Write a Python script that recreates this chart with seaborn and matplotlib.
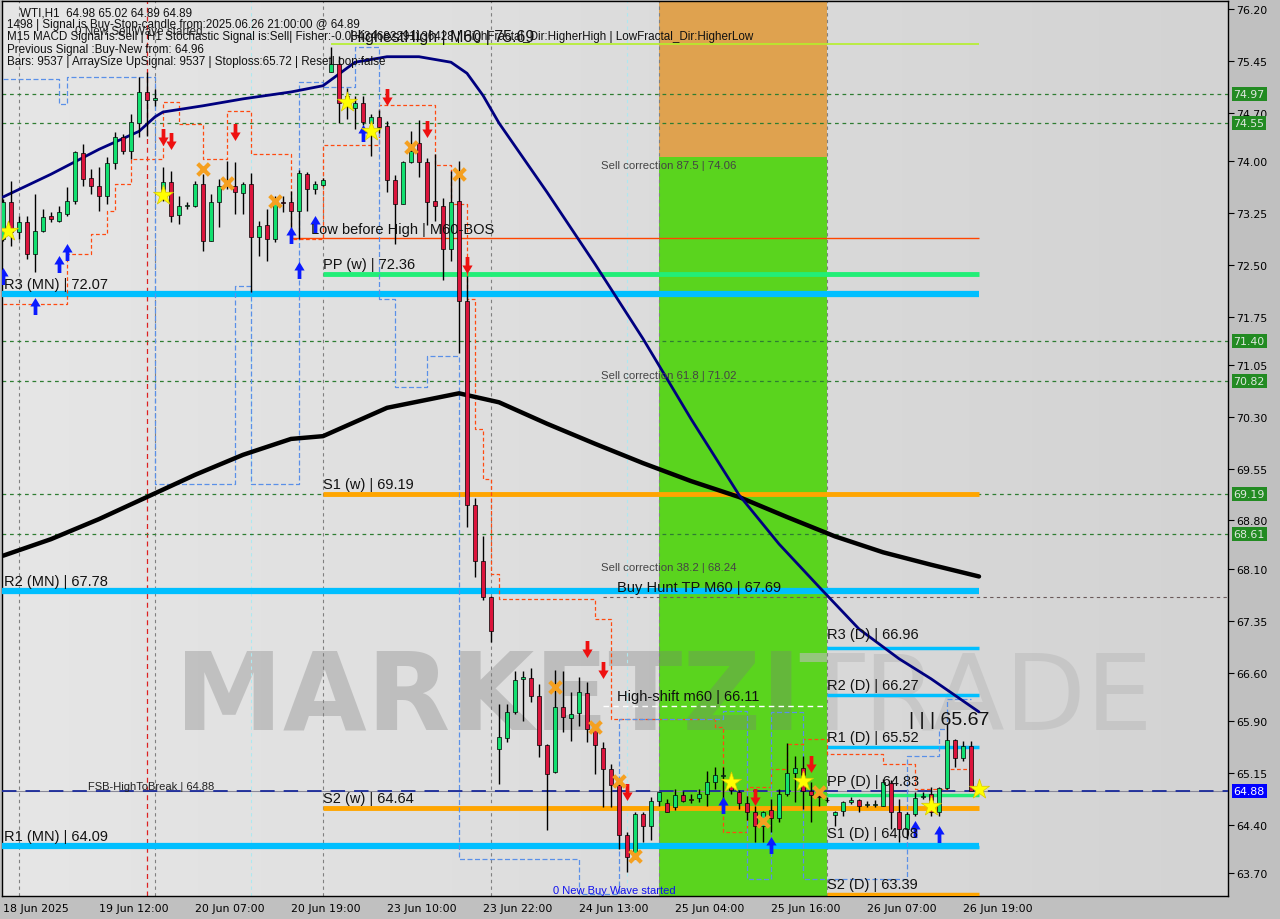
import matplotlib
matplotlib.use("Agg")
import matplotlib.pyplot as plt
from matplotlib.patches import Rectangle
from matplotlib.path import Path
from matplotlib.colors import LinearSegmentedColormap
import matplotlib.transforms as mtransforms
import numpy as np
import pandas as pd
import seaborn as sns

# ---------------- values (WTI, H1) ----------------
opens = [72.87, 73.41, 72.97, 73.12, 72.66, 72.99, 73.21, 73.13, 73.23, 73.42,
         74.12, 73.76, 73.64, 73.49, 73.97, 74.35, 74.15, 74.55, 75.00, 74.88,
         73.49, 73.70, 73.22, 73.35, 73.35, 73.67, 72.84, 73.41, 73.64, 73.64,
         73.54, 73.67, 72.90, 73.07, 72.87, 73.41, 73.41, 73.28, 73.81, 73.60,
         73.65, 75.29, 75.40, 74.94, 74.77, 74.84, 74.55, 74.64, 74.51, 73.73,
         73.38, 73.99, 74.26, 73.99, 73.42, 73.35, 72.73, 73.42, 71.98, 69.02,
         68.21, 67.70, 65.49, 65.65, 66.03, 66.51, 66.52, 66.26, 65.55, 65.16,
         66.10, 65.94, 66.02, 66.30, 65.78, 65.51, 65.20, 64.97, 64.25, 63.93,
         64.55, 64.38, 64.74, 64.71, 64.66, 64.83, 64.77, 64.79, 64.84, 65.02,
         65.10, 64.96, 64.87, 64.71, 64.58, 64.38, 64.61, 64.50, 64.84, 65.15,
         65.22, 64.89, 64.81, 64.76, 64.54, 64.60, 64.73, 64.76, 64.68, 64.68,
         64.67, 65.00, 64.58, 64.34, 64.55, 64.80, 64.84, 64.58, 64.93, 65.63,
         65.36, 65.54]
highs = [73.45, 73.71, 73.21, 73.21, 73.52, 73.31, 73.26, 73.35, 73.62, 74.15,
         74.25, 73.89, 73.91, 74.06, 74.42, 74.39, 74.68, 75.22, 75.29, 75.04,
         73.91, 73.86, 73.49, 73.41, 73.71, 73.81, 73.52, 73.74, 74.00, 73.99,
         73.70, 73.83, 73.13, 73.31, 73.49, 73.49, 73.57, 73.87, 73.84, 73.71,
         73.76, 75.65, 75.52, 75.06, 74.94, 74.94, 74.68, 74.74, 74.58, 73.80,
         74.00, 74.44, 74.59, 74.04, 74.10, 73.47, 73.86, 74.00, 72.34, 69.12,
         68.58, 67.71, 66.14, 66.14, 66.62, 66.62, 66.67, 66.44, 65.57, 66.64,
         66.62, 66.32, 66.54, 66.46, 65.83, 65.60, 65.28, 65.02, 64.29, 64.58,
         64.58, 64.80, 64.87, 64.77, 64.92, 64.89, 64.84, 64.92, 65.18, 65.23,
         65.23, 65.10, 64.90, 64.81, 64.67, 64.60, 64.77, 64.92, 65.58, 65.39,
         65.39, 65.02, 64.87, 64.80, 64.60, 64.74, 64.80, 64.77, 64.74, 64.76,
         65.06, 65.05, 64.77, 64.58, 64.87, 64.87, 64.95, 64.95, 65.86, 65.64,
         65.61, 65.61]
lows = [72.84, 72.77, 72.87, 72.58, 72.39, 72.97, 73.12, 73.12, 73.21, 73.38,
        73.64, 73.52, 73.28, 73.38, 73.89, 74.10, 74.03, 74.35, 74.36, 74.80,
        73.42, 73.12, 73.09, 73.31, 73.34, 72.70, 72.84, 73.05, 73.60, 73.23,
        73.23, 72.11, 72.63, 72.55, 72.83, 73.26, 73.02, 72.87, 73.28, 73.52,
        73.64, 75.29, 74.55, 74.61, 74.46, 74.52, 74.07, 74.41, 73.55, 72.80,
        73.38, 73.97, 73.77, 73.07, 73.13, 72.28, 72.55, 71.22, 68.71, 67.98,
        67.65, 67.04, 64.99, 65.60, 66.00, 65.90, 66.17, 65.38, 64.32, 65.15,
        65.74, 65.61, 65.83, 65.60, 65.13, 64.66, 64.66, 64.05, 63.71, 63.90,
        64.15, 64.17, 64.67, 64.58, 64.61, 64.73, 64.71, 64.73, 64.67, 64.92,
        64.74, 64.84, 64.63, 64.47, 64.15, 64.15, 64.29, 64.44, 64.81, 64.73,
        64.63, 64.44, 64.67, 64.73, 64.38, 64.52, 64.70, 64.58, 64.66, 64.66,
        64.67, 64.34, 64.15, 64.19, 64.52, 64.77, 64.52, 64.52, 64.92, 65.23,
        65.32, 64.92]
closes = [73.41, 72.97, 73.12, 72.66, 72.99, 73.19, 73.16, 73.26, 73.42, 74.13,
          73.74, 73.64, 73.49, 73.97, 74.35, 74.15, 74.57, 75.00, 74.88, 74.91,
          73.70, 73.21, 73.35, 73.36, 73.67, 72.84, 73.41, 73.64, 73.65, 73.55,
          73.67, 72.90, 73.06, 72.87, 73.41, 73.40, 73.28, 73.83, 73.60, 73.67,
          73.73, 75.40, 74.84, 74.88, 74.84, 74.57, 74.64, 74.49, 73.73, 73.38,
          73.99, 74.15, 73.99, 73.41, 73.35, 72.73, 73.41, 71.98, 69.02, 68.21,
          67.70, 67.20, 65.67, 66.03, 66.49, 66.54, 66.26, 65.55, 65.13, 66.10,
          65.96, 66.00, 66.32, 65.78, 65.55, 65.20, 64.97, 64.25, 63.93, 64.55,
          64.38, 64.74, 64.87, 64.58, 64.83, 64.74, 64.76, 64.84, 65.02, 65.12,
          65.11, 64.90, 64.71, 64.58, 64.38, 64.58, 64.50, 64.84, 65.15, 65.22,
          64.89, 64.83, 64.80, 64.75, 64.58, 64.73, 64.76, 64.67, 64.68, 64.69,
          65.02, 64.58, 64.34, 64.55, 64.79, 64.81, 64.58, 64.93, 65.63, 65.36,
          65.54, 64.89]

time_label_bars = [0, 12, 24, 36, 48, 60, 72, 84, 96, 108, 120]
time_labels = ["18 Jun 2025", "19 Jun 12:00", "20 Jun 07:00", "20 Jun 19:00",
               "23 Jun 10:00", "23 Jun 22:00", "24 Jun 13:00", "25 Jun 04:00",
               "25 Jun 16:00", "26 Jun 07:00", "26 Jun 19:00"]
price_ticks = [76.20, 75.45, 74.70, 74.00, 73.25, 72.50, 71.75, 71.05, 70.30,
               69.55, 68.80, 68.10, 67.35, 66.60, 65.90, 65.15, 64.40, 63.70]

# moving averages (read at a few bars)
navy_ma_bars = [0, 6, 12, 17, 19, 20, 25, 30, 36, 40, 44, 48, 52, 56, 58, 60, 62,
                68, 74, 80, 86, 92, 97, 102, 107, 112, 116, 122]
navy_ma_vals = [73.48, 73.81, 74.17, 74.43, 74.64, 74.71, 74.80, 74.90, 75.00, 75.09,
                75.43, 75.51, 75.51, 75.43, 75.27, 74.95, 74.55, 73.55, 72.51, 71.43,
                70.27, 69.17, 68.46, 67.84, 67.23, 66.80, 66.51, 66.03]
black_ma_bars = [0, 6, 12, 18, 24, 30, 36, 40, 48, 57, 62, 68, 74, 80, 86, 92, 98,
                 104, 110, 116, 122]
black_ma_vals = [68.29, 68.53, 68.82, 69.14, 69.46, 69.75, 69.98, 70.02, 70.43, 70.64,
                 70.51, 70.20, 69.91, 69.63, 69.37, 69.14, 68.85, 68.57, 68.34, 68.16,
                 67.99]

# trailing stop (orange dashed) and fractal band (blue dashed), step breakpoints
stop_bars = [0, 8, 11, 13, 14, 16, 20, 22, 25, 28, 31, 36, 40, 47, 54, 56, 58, 59, 60,
             61, 62, 74, 76, 89, 90, 93, 96, 98, 100, 103, 110, 114, 118, 121]
stop_vals = [71.93, 72.66, 72.95, 73.28, 73.67, 74.03, 74.86, 74.54, 74.03, 74.72,
             74.10, 72.87, 74.23, 74.81, 73.94, 73.38, 72.00, 70.12, 69.40, 68.03,
             67.66, 67.37, 65.93, 65.81, 64.29, 64.94, 65.20, 65.57, 65.64, 65.42,
             65.28, 64.92, 65.20, 65.28]
band_bars = [0, 6, 7, 8, 19, 29, 31, 37, 40, 44, 47, 49, 53, 57, 72, 77, 90, 93, 96,
             100, 113, 117, 118, 121]
band_vals = [75.19, 75.19, 74.83, 75.22, 69.33, 72.19, 69.33, 75.14, 75.07, 75.65,
             72.00, 70.73, 71.18, 63.90, 63.40, 65.93, 66.04, 63.61, 66.03, 63.61,
             65.39, 65.78, 66.22, 66.22]

# signal markers
star_bars = [0.6, 20, 43, 46, 91, 100, 116, 122]
star_prices = [72.99, 73.51, 74.85, 74.44, 65.02, 65.03, 64.67, 64.92]
cross_bars = [25, 28, 34, 51, 57, 69, 74, 77, 79, 95, 102]
cross_prices = [73.89, 73.68, 73.42, 74.20, 73.81, 66.39, 65.81, 65.03, 63.95, 64.45, 64.87]
buy_bars = [0, 4, 7, 8, 36, 37, 39, 45, 90, 96, 114, 117]
buy_prices = [72.34, 71.90, 72.51, 72.69, 72.93, 72.42, 73.09, 74.41, 64.68, 64.10, 64.34, 64.26]
sell_bars = [20, 21, 29, 48, 53, 58, 73, 75, 78, 94, 101]
sell_prices = [74.35, 74.29, 74.42, 74.93, 74.46, 72.50, 66.94, 66.64, 64.87, 64.80, 65.28]

# pivot levels
pivot_labels = ["R3 (MN)", "R2 (MN)", "R1 (MN)", "PP (w)", "S1 (w)", "S2 (w)",
                "R3 (D)", "R2 (D)", "R1 (D)", "PP (D)", "S1 (D)", "S2 (D)"]
pivot_values = [72.07, 67.78, 64.09, 72.36, 69.19, 64.64,
                66.96, 66.27, 65.52, 64.83, 64.08, 63.39]
fib_levels = [87.5, 61.8, 38.2]
fib_values = [74.06, 71.02, 68.24]
green_marks = [74.97, 74.55, 71.40, 70.82, 69.19, 68.61]
highest_high = 75.69
low_before_high = 72.88
buy_hunt_tp = 67.69
high_shift = 66.11
fsb_high = 64.88
last_price = 64.89
tag_price = 65.67

header_lines = [
    "1498 | Signal is Buy-Stop-candle from:2025.06.26 21:00:00 @ 64.89",
    "M15 MACD Signal is:Sell | H1 Stochastic Signal is:Sell| Fisher:-0.03434682291136428 | HighFractal_Dir:HigherHigh | LowFractal_Dir:HigherLow",
    "Previous Signal :Buy-New from: 64.96",
    "Bars: 9537 | ArraySize UpSignal: 9537 | Stoploss:65.72 | ResetLoop:false",
]

# ---------------- figure ----------------
sns.set_style("white")
plt.rcParams['font.family'] = ['DejaVu Sans']
TXT = ['Liberation Sans', 'DejaVu Sans']

fig = plt.figure(figsize=(12.8, 9.2), dpi=100, facecolor='#c0c0c0')
ax = fig.add_axes([2 / 1280, 23 / 920, 1226 / 1280, 895 / 920])
y0, y1 = 63.367, 76.316
x0, x1 = -0.125, 153.125

# background gradient
bg = LinearSegmentedColormap.from_list('bg', ['#e6e6e6', '#d3d3d3'])
ax.imshow(np.linspace(0, 1, 256)[None, :], extent=[x0, x1, y0, y1], aspect='auto',
          cmap=bg, zorder=0)

# time-zone boxes
ax.add_patch(Rectangle((82, y0), 21, 74.06 - y0, color='#5ad41e', zorder=1, lw=0))
ax.add_patch(Rectangle((82, 74.06), 21, y1 - 74.06, color='#dfa24f', zorder=1, lw=0))

# watermark
ax.text(21.5, 65.79, "MARKETZI", fontsize=78, fontweight='bold', color='#7a7a7a',
        alpha=0.32, zorder=1.5, va='baseline')
ax.text(99.5, 65.79, "TRADE", fontsize=76, color='#bdbdbd', alpha=0.6,
        zorder=1.5, va='baseline')

# separators
for b in [2, 19, 40, 61, 82, 103]:
    ax.axvline(b, color='#808080', ls=(0, (3, 3)), lw=0.8, zorder=2)
ax.axvline(18, color='#dd2020', ls=(0, (4, 3)), lw=0.9, zorder=2)
for b in [31, 78]:
    ax.axvline(b, color='#aee8f0', ls=(0, (3, 3)), lw=0.8, zorder=2)
for p in green_marks:
    ax.axhline(p, color='#2e7d32', ls=(0, (3, 3)), lw=0.9, zorder=2)

# level lines
cyan, orange, spring = '#00bfff', '#ffa500', '#22ee77'
lvl_end = 122
for name, val in zip(pivot_labels, pivot_values):
    if "(MN)" in name:
        xs, col, lw = x0, cyan, 4.5
    elif "(w)" in name:
        xs, col, lw = 40, spring if name.startswith("PP") else orange, 3.5
    else:
        xs = 103
        col = spring if name.startswith("PP") else (orange if name.startswith("S2") else cyan)
        lw = 2.5
    ax.hlines(val, xs, lvl_end, colors=col, lw=lw, zorder=3)
ax.hlines(highest_high, 41, lvl_end, colors='#b4f02a', lw=1.2, zorder=3)
ax.hlines(low_before_high, 36, lvl_end, colors='#ff4500', lw=1.0, zorder=3)
ax.hlines(buy_hunt_tp, 75, x1, colors='#6a5a5a', lw=0.8, linestyles=(0, (3, 3)), zorder=3)
ax.hlines(high_shift, 75, 103, colors='white', lw=1.0, linestyles=(0, (4, 3)), zorder=3)
ax.axhline(last_price, color='#8a8a9a', lw=0.8, zorder=3)
ax.axhline(fsb_high, color='#1a2a9a', lw=1.3, ls=(0, (8, 5)), zorder=3)

# step indicators
sns.lineplot(x=stop_bars, y=stop_vals, ax=ax, color='#ff4a10', lw=0.9,
             linestyle=(0, (3, 2)), drawstyle='steps-post', estimator=None, zorder=3.5)
sns.lineplot(x=band_bars, y=band_vals, ax=ax, color='#5a90e8', lw=0.9,
             linestyle=(0, (4, 2)), drawstyle='steps-post', estimator=None, zorder=3.5)

# moving averages
sns.lineplot(x=black_ma_bars, y=black_ma_vals, ax=ax, color='black', lw=3.2,
             estimator=None, zorder=4)
sns.lineplot(x=navy_ma_bars, y=navy_ma_vals, ax=ax, color='#00007f', lw=2.0,
             estimator=None, zorder=4)

# candles
df = pd.DataFrame({'bar': np.arange(len(opens)), 'open': opens, 'high': highs,
                   'low': lows, 'close': closes})
body_lo = np.minimum(df['open'], df['close'])
body_h = np.maximum((df['close'] - df['open']).abs(), 0.012)
body_col = np.where(df['close'] >= df['open'], '#12e070', '#dc143c')
ax.vlines(df['bar'], df['low'], df['high'], color='black', lw=1.0, zorder=5)
ax.bar(df['bar'], body_h, bottom=body_lo, width=0.62, color=body_col,
       edgecolor='black', linewidth=0.5, zorder=6)

# markers
up = Path([(-0.22, -1), (0.22, -1), (0.22, 0), (0.6, 0), (0, 1), (-0.6, 0), (-0.22, 0), (-0.22, -1)],
          [Path.MOVETO] + [Path.LINETO] * 6 + [Path.CLOSEPOLY])
down = Path([(x, -y) for x, y in up.vertices], up.codes)
ax.scatter(buy_bars, buy_prices, marker=up, s=150, color='#0a1aff', zorder=7, lw=0)
ax.scatter(sell_bars, sell_prices, marker=down, s=150, color='#ee1010', zorder=7, lw=0)
sns.scatterplot(x=star_bars, y=star_prices, ax=ax, marker='*', s=230, color='#ffff00',
                edgecolor='#d8c800', linewidth=0.5, zorder=7)
sns.scatterplot(x=cross_bars, y=cross_prices, ax=ax, marker='x', s=70, color='#f5a020',
                linewidth=3, zorder=7)

# level texts
def label(x, y, s, size=10.5, color='#111111', dy=4.3):
    ax.annotate(s, (x, y), xytext=(0, dy), textcoords='offset points', fontsize=size,
                color=color, family=TXT, va='baseline', ha='left', zorder=8)

for name, val in zip(pivot_labels, pivot_values):
    xs = 0.1 if "(MN)" in name else (40 if "(w)" in name else 103)
    dy = 7 if name in ("R3 (D)", "PP (D)", "S1 (D)") else 4.3
    label(xs, val, f"{name} | {val:.2f}", dy=dy)
label(43.4, highest_high, f"HighestHigh | M60 | {highest_high:.2f}", size=11.5, dy=2.5)
label(38.5, low_before_high, "Low before High | M60-BOS")
label(76.8, buy_hunt_tp, f"Buy Hunt TP M60 | {buy_hunt_tp:.2f}")
label(76.8, high_shift, f"High-shift m60 | {high_shift:.2f}")
label(10.6, fsb_high, f"FSB-HighToBreak | {fsb_high:.2f}", size=8, color='#222222', dy=1.5)
label(113.2, tag_price, f"| | | {tag_price:.2f}", size=14, dy=9)
for lv, val in zip(fib_levels, fib_values):
    ax.annotate(f"Sell correction {lv} | {val:.2f}", (74.7, val), xytext=(0, -2),
                textcoords='offset points', fontsize=8.2, color='#444444', family=TXT,
                va='top', ha='left', zorder=8)
ax.text(68.8, y0 + 0.02, "0 New Buy Wave started", fontsize=8, color='#1010ee',
        family=TXT, va='bottom', zorder=8)

# header
fig.text(20 / 1280, 1 - 13 / 920, "WTI,H1  64.98 65.02 64.89 64.89", fontsize=8.4,
         family=TXT, color='#111111', va='center')
for i, line in enumerate(header_lines):
    fig.text(7 / 1280, 1 - (25 + 12.4 * i) / 920, line, fontsize=8.4, family=TXT,
             color='#111111', va='center')
fig.text(75 / 1280, 1 - 32 / 920, "0 New Sell Wave started", fontsize=8.4, family=TXT,
         color='#222222', va='center')

# axes
ax.set_xlim(x0, x1)
ax.set_ylim(y0, y1)
ax.yaxis.tick_right()
ax.set_yticks(price_ticks)
ax.set_yticklabels([f"{p:.2f}" for p in price_ticks])
ax.set_xticks(time_label_bars)
ax.set_xticklabels(time_labels)
for t in ax.get_xticklabels():
    t.set_ha('left')
ax.tick_params(axis='both', direction='out', length=4, width=0.8, labelsize=7.9,
               color='black', labelcolor='black', pad=2)
ax.tick_params(axis='x', pad=1)
for sp in ax.spines.values():
    sp.set_color('black')
    sp.set_linewidth(1.0)
ax.set_xlabel("")
ax.set_ylabel("")
ax.grid(False)

# price tags on the scale
trans = mtransforms.blended_transform_factory(ax.transAxes, ax.transData)
for p in green_marks:
    ax.text(1.0045, p, f"{p:.2f}", transform=trans, fontsize=7.9, color='#dfe8df',
            va='center', ha='left', zorder=9, clip_on=False,
            bbox=dict(boxstyle='square,pad=0.18', fc='#228b22', ec='none'))
ax.text(1.0045, fsb_high, f"{fsb_high:.2f}", transform=trans, fontsize=7.9, color='white',
        va='center', ha='left', zorder=9, clip_on=False,
        bbox=dict(boxstyle='square,pad=0.18', fc='#0000ff', ec='none'))

fig.savefig("out.png", dpi=100, facecolor=fig.get_facecolor())
